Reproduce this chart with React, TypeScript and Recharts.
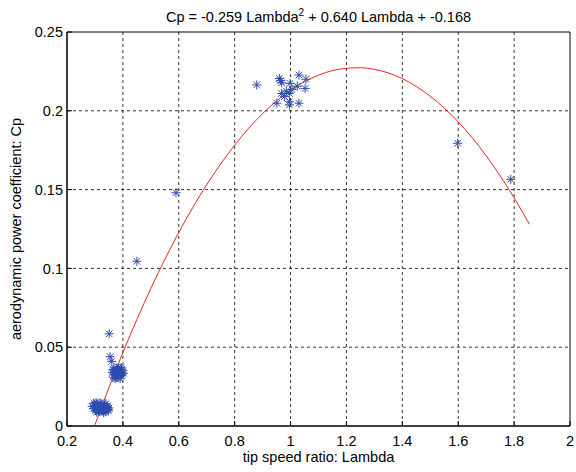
import React from "react";
import {
  ComposedChart,
  Scatter,
  Line,
  XAxis,
  YAxis,
  CartesianGrid,
  ReferenceArea,
} from "recharts";

const xTicks = [0.2, 0.4, 0.6, 0.8, 1, 1.2, 1.4, 1.6, 1.8, 2];
const yTicks = [0, 0.05, 0.1, 0.15, 0.2, 0.25];

// measured Cp vs Lambda
const lambdaObs = [
  0.290, 0.295, 0.298, 0.302, 0.305, 0.308, 0.310, 0.313, 0.316, 0.318, 0.320, 0.322, 0.325, 0.327,
  0.330, 0.332, 0.334, 0.336, 0.338, 0.340, 0.342, 0.345, 0.347, 0.350, 0.312, 0.300, 0.328, 0.344,
  0.296, 0.306, 0.319, 0.331, 0.339, 0.348, 0.304, 0.324, 0.337,
  0.362, 0.365, 0.367, 0.370, 0.372, 0.374, 0.376, 0.378, 0.380, 0.382, 0.384, 0.386, 0.388, 0.390,
  0.392, 0.394, 0.396, 0.398, 0.400, 0.375, 0.385, 0.369, 0.393, 0.402, 0.364,
  0.354, 0.360, 0.351, 0.450, 0.590,
  0.879, 0.960, 0.965, 0.968, 0.998, 1.030, 1.055, 1.052, 1.024, 0.968, 0.996, 0.951, 0.996, 0.996,
  1.030, 0.985, 1.005, 0.978,
  1.598, 1.788,
];
const cpObs = [
  0.0125, 0.0110, 0.0132, 0.0098, 0.0120, 0.0140, 0.0105, 0.0118, 0.0095, 0.0130, 0.0112, 0.0100, 0.0125, 0.0108,
  0.0118, 0.0097, 0.0132, 0.0112, 0.0102, 0.0122, 0.0110, 0.0118, 0.0104, 0.0114, 0.0092, 0.0112, 0.0094, 0.0128,
  0.0145, 0.0088, 0.0146, 0.0086, 0.0142, 0.0096, 0.0150, 0.0140, 0.0090,
  0.034, 0.031, 0.036, 0.033, 0.030, 0.035, 0.037, 0.032, 0.034, 0.031, 0.036, 0.033, 0.035, 0.030,
  0.034, 0.032, 0.036, 0.033, 0.035, 0.0305, 0.0372, 0.0325, 0.0370, 0.0335, 0.0355,
  0.044, 0.041, 0.0585, 0.1045, 0.148,
  0.2164, 0.2205, 0.2192, 0.2178, 0.2174, 0.2227, 0.2200, 0.2142, 0.2156, 0.2110, 0.2110, 0.2048, 0.2058, 0.2037,
  0.2048, 0.2125, 0.2135, 0.2090,
  0.1794, 0.1565,
];

// fitted curve
const lambdaFit = [0.3, 0.35, 0.4, 0.5, 0.6, 0.7, 0.8, 0.9, 1.0, 1.1, 1.2, 1.25, 1.3, 1.4, 1.5, 1.6, 1.7, 1.8, 1.855];
const cpFit = [0.0007, 0.0243, 0.0466, 0.0873, 0.1228, 0.1531, 0.1782, 0.1982, 0.213, 0.2226, 0.227, 0.2273, 0.2263, 0.2204, 0.2092, 0.193, 0.1715, 0.1448, 0.128];

const obsData = lambdaObs.map((x, i) => ({ x, y: cpObs[i] }));
const fitData = lambdaFit.map((x, i) => ({ x, y: cpFit[i] }));

const BLUE = "#2f4cb0";
const RED = "#ea2323";
const FONT = "'Liberation Sans', Arial, sans-serif";

const Star = (props: any) => {
  const { cx, cy } = props;
  if (cx == null || cy == null) return <g />;
  const r = 4.5;
  const d = r * 0.72;
  return (
    <g stroke={BLUE} strokeWidth={1}>
      <line x1={cx - r} y1={cy} x2={cx + r} y2={cy} />
      <line x1={cx} y1={cy - r} x2={cx} y2={cy + r} />
      <line x1={cx - d} y1={cy - d} x2={cx + d} y2={cy + d} />
      <line x1={cx - d} y1={cy + d} x2={cx + d} y2={cy - d} />
    </g>
  );
};

const Empty = () => <g />;

export default function App() {
  return (
    <div style={{ position: "absolute", left: 0, top: 0, width: 576, height: 472, background: "#fff", fontFamily: FONT }}>
      <ComposedChart
        width={576}
        height={472}
        margin={{ top: 32, right: 6, bottom: 0, left: 0 }}
        style={{ fontFamily: FONT }}
      >
        <CartesianGrid
          xAxisId="b"
          yAxisId="l"
          stroke="#000"
          strokeDasharray="3 3"
          strokeWidth={0.8}
          verticalValues={xTicks.slice(1, -1)}
          horizontalValues={yTicks.slice(1, -1)}
        />
        <XAxis
          xAxisId="b"
          dataKey="x"
          type="number"
          domain={[0.2, 2]}
          ticks={xTicks}
          allowDataOverflow
          orientation="bottom"
          height={46}
          tickSize={-5}
          tickMargin={15}
          stroke="#000"
          tick={{ fill: "#000", fontSize: 14.5, fontFamily: FONT }}
          tickFormatter={(v: number) => String(v)}
          label={{ value: "tip speed ratio: Lambda", position: "insideBottom", offset: 10, fill: "#000", fontSize: 14.5, fontFamily: FONT }}
        />
        <XAxis
          xAxisId="t"
          dataKey="x"
          type="number"
          domain={[0.2, 2]}
          ticks={xTicks}
          allowDataOverflow
          orientation="top"
          height={0}
          tickSize={-5}
          stroke="#000"
          tick={Empty}
        />
        <YAxis
          yAxisId="l"
          dataKey="y"
          type="number"
          domain={[0, 0.25]}
          ticks={yTicks}
          allowDataOverflow
          width={67}
          tickSize={-5}
          tickMargin={9}
          stroke="#000"
          tick={{ fill: "#000", fontSize: 14.5, fontFamily: FONT }}
          tickFormatter={(v: number) => String(v)}
          label={{ value: "aerodynamic power coefficient: Cp", angle: -90, position: "insideLeft", offset: 16, fill: "#000", fontSize: 14.5, fontFamily: FONT, style: { textAnchor: "middle" } }}
        />
        <YAxis
          yAxisId="r"
          dataKey="y"
          type="number"
          domain={[0, 0.25]}
          ticks={yTicks}
          allowDataOverflow
          orientation="right"
          width={0}
          tickSize={-5}
          stroke="#000"
          tick={Empty}
        />
        <ReferenceArea xAxisId="b" yAxisId="l" x1={0.2} x2={2} y1={0} y2={0.25} fill="none" stroke="#000" strokeWidth={1} ifOverflow="visible" />
        <Scatter
          xAxisId="b"
          yAxisId="l"
          data={obsData}
          dataKey="y"
          shape={Star}
          isAnimationActive={false}
        />
        <Line
          xAxisId="b"
          yAxisId="l"
          data={fitData}
          dataKey="y"
          type="monotone"
          stroke={RED}
          strokeWidth={1}
          dot={false}
          activeDot={false}
          isAnimationActive={false}
        />
        <text x={318.5} y={22} textAnchor="middle" fontSize={14.5} fontFamily={FONT} fill="#000">
          <tspan>Cp = -0.259 Lambda</tspan>
          <tspan dy={-6} fontSize={10}>2</tspan>
          <tspan dy={6}> + 0.640 Lambda + -0.168</tspan>
        </text>
      </ComposedChart>
    </div>
  );
}
